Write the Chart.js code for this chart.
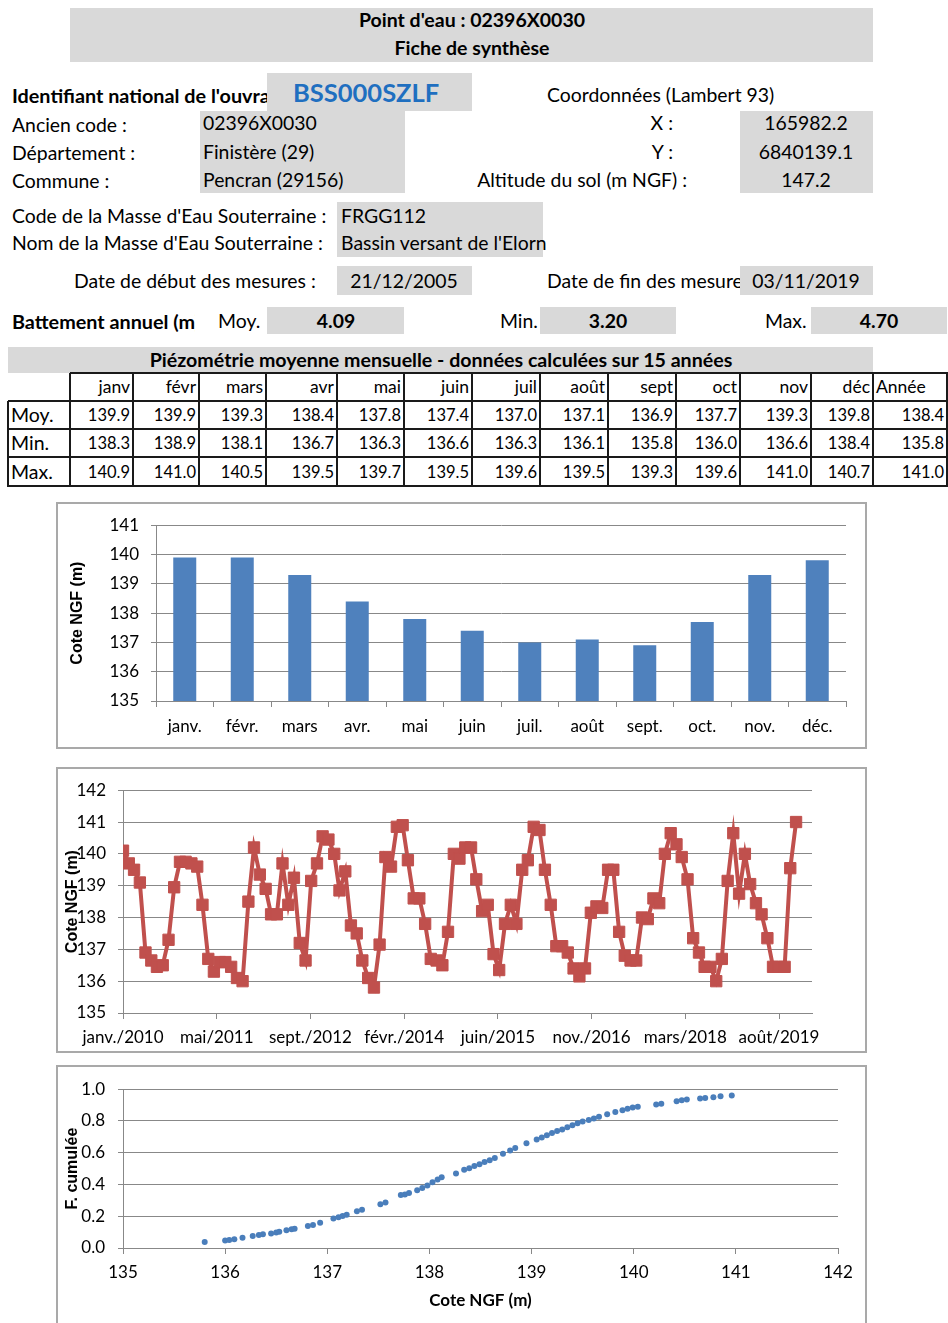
<!DOCTYPE html>
<html lang="fr">
<head>
<meta charset="utf-8">
<title>Point d'eau : 02396X0030 - Fiche de synthèse</title>
<script src="https://cdn.jsdelivr.net/npm/chart.js@4.4.1/dist/chart.umd.min.js"></script>
<style>
  html, body { margin: 0; padding: 0; }
  body { width: 948px; height: 1323px; background: #fff; position: relative; overflow: hidden;
         font-family: Lato, "Open Sans", sans-serif; color: #000; }
  .t { position: absolute; white-space: nowrap; height: 30px; line-height: 30px; font-size: 19.4px; }
  .g { position: absolute; background: #d9d9d9; }
  .hl, .vl { position: absolute; background: #1a1a1a; }
  .frame { position: absolute; border: 2px solid #a9a9a9; box-sizing: border-box; pointer-events: none; }
  canvas { position: absolute; }
</style>
</head>
<body>
<div id="sheet"></div>
<canvas id="barChart" width="809" height="245" style="left:57px;top:503px"></canvas>
<div class="frame" style="left:56px;top:502px;width:811px;height:247px"></div>
<canvas id="lineChart" width="809" height="284" style="left:57px;top:768px"></canvas>
<div class="frame" style="left:56px;top:767px;width:811px;height:286px"></div>
<canvas id="cumChart" width="809" height="257" style="left:57px;top:1066px"></canvas>
<div class="frame" style="left:56px;top:1065px;width:811px;height:270px"></div>

<script>
// ---- Monthly statistics (table + bar chart) ----
const monthHeaders = ['janv', 'févr', 'mars', 'avr', 'mai', 'juin', 'juil', 'août', 'sept', 'oct', 'nov', 'déc', 'Année'];
const rowLabels = ['Moy.', 'Min.', 'Max.'];
const monthlyMean = [139.9, 139.9, 139.3, 138.4, 137.8, 137.4, 137.0, 137.1, 136.9, 137.7, 139.3, 139.8];
const monthlyMin  = [138.3, 138.9, 138.1, 136.7, 136.3, 136.6, 136.3, 136.1, 135.8, 136.0, 136.6, 138.4];
const monthlyMax  = [140.9, 141.0, 140.5, 139.5, 139.7, 139.5, 139.6, 139.5, 139.3, 139.6, 141.0, 140.7];
const yearStats   = [138.4, 135.8, 141.0];   // Moy., Min., Max. over the whole year
const barLabels = ['janv.', 'févr.', 'mars', 'avr.', 'mai', 'juin', 'juil.', 'août', 'sept.', 'oct.', 'nov.', 'déc.'];

// ---- Monthly water level, January 2010 -> November 2019 (m NGF) ----
const firstYear = 2010;
const monthlyLevels = [
  140.1, 139.7, 139.5, 139.1, 136.9, 136.65, 136.45, 136.5, 137.3, 138.95, 139.75, 139.75,
  139.7, 139.6, 138.4, 136.7, 136.3, 136.6, 136.6, 136.45, 136.1, 136.0, 138.5, 140.2,
  139.35, 138.9, 138.1, 138.1, 139.7, 138.4, 139.25, 137.2, 136.65, 139.15, 139.7, 140.55,
  140.45, 140.0, 138.85, 139.45, 137.75, 137.5, 136.65, 136.1, 135.8, 137.15, 139.9, 139.6,
  140.85, 140.9, 139.8, 138.6, 138.6, 137.8, 136.7, 136.65, 136.5, 137.55, 140.0, 139.85,
  140.2, 140.2, 139.2, 138.2, 138.4, 136.85, 136.35, 137.8, 138.4, 137.8, 139.5, 139.8,
  140.85, 140.75, 139.5, 138.4, 137.1, 137.1, 136.9, 136.4, 136.15, 136.4, 138.15, 138.35,
  138.3, 139.5, 139.5, 137.55, 136.8, 136.65, 136.65, 138.0, 137.95, 138.6, 138.45, 140.0,
  140.65, 140.3, 139.9, 139.2, 137.35, 136.9, 136.45, 136.45, 136.0, 136.7, 139.15, 140.65,
  138.75, 140.0, 139.05, 138.45, 138.1, 137.35, 136.45, 136.45, 136.45, 139.55, 141.0
];
const dateTickLabels = ['janv./2010', 'mai/2011', 'sept./2012', 'févr./2014', 'juin/2015', 'nov./2016', 'mars/2018', 'août/2019'];
const dateAxisEnd = '2020-01-25';

// ---- Cumulative frequency of the levels ----
const cumLevels = [
  135.80, 136.00, 136.04, 136.09, 136.17, 136.27, 136.33, 136.37, 136.45, 136.50,
  136.53, 136.60, 136.65, 136.68, 136.81, 136.86, 136.93, 137.06, 137.11, 137.15,
  137.19, 137.29, 137.34, 137.52, 137.57, 137.72, 137.76, 137.80, 137.88, 137.93,
  137.98, 138.03, 138.08, 138.12, 138.26, 138.34, 138.39, 138.44, 138.49, 138.54,
  138.59, 138.64, 138.72, 138.79, 138.84, 138.95, 139.05, 139.10, 139.15, 139.20,
  139.25, 139.30, 139.35, 139.40, 139.45, 139.50, 139.56, 139.61, 139.66, 139.74,
  139.82, 139.89, 139.94, 139.99, 140.04, 140.22, 140.27, 140.42, 140.47, 140.52,
  140.65, 140.70, 140.78, 140.85, 140.96
];
const cumFreq = [
  0.037, 0.047, 0.051, 0.055, 0.065, 0.076, 0.082, 0.086, 0.092, 0.098,
  0.102, 0.112, 0.118, 0.122, 0.139, 0.145, 0.159, 0.186, 0.194, 0.202,
  0.210, 0.231, 0.241, 0.276, 0.286, 0.333, 0.337, 0.347, 0.363, 0.378,
  0.394, 0.414, 0.431, 0.445, 0.469, 0.492, 0.502, 0.516, 0.527, 0.541,
  0.553, 0.567, 0.594, 0.614, 0.629, 0.659, 0.684, 0.696, 0.710, 0.724,
  0.737, 0.747, 0.761, 0.773, 0.786, 0.796, 0.806, 0.816, 0.827, 0.843,
  0.857, 0.867, 0.877, 0.884, 0.890, 0.904, 0.908, 0.924, 0.931, 0.935,
  0.941, 0.945, 0.949, 0.955, 0.960
];

// ---------------- Header sheet ----------------
const sheet = document.getElementById('sheet');

function box(x1, y1, x2, y2) {
  const d = document.createElement('div');
  d.className = 'g';
  Object.assign(d.style, { left: x1 + 'px', top: y1 + 'px', width: (x2 - x1) + 'px', height: (y2 - y1) + 'px' });
  sheet.appendChild(d);
}

// align: 'l' (x = left edge), 'c' (x = centre), 'r' (x = right edge)
function text(str, x, cy, o = {}) {
  const d = document.createElement('div');
  d.className = 't';
  d.textContent = str;
  const align = o.align || 'l';
  d.style.top = (cy - 15) + 'px';
  if (align === 'l') { d.style.left = x + 'px'; }
  if (align === 'c') { d.style.left = (x - 300) + 'px'; d.style.width = '600px'; d.style.textAlign = 'center'; }
  if (align === 'r') { d.style.left = (x - 400) + 'px'; d.style.width = '400px'; d.style.textAlign = 'right'; }
  if (o.clip) { d.style.width = o.clip + 'px'; d.style.overflow = 'hidden'; }
  if (o.bold) d.style.fontWeight = '700';
  if (o.size) d.style.fontSize = o.size + 'px';
  if (o.color) d.style.color = o.color;
  sheet.appendChild(d);
}

function line(x1, y1, x2, y2) {
  const d = document.createElement('div');
  d.className = x1 === x2 ? 'vl' : 'hl';
  if (x1 === x2) Object.assign(d.style, { left: (x1 - 1) + 'px', top: y1 + 'px', width: '2px', height: (y2 - y1 + 1) + 'px' });
  else Object.assign(d.style, { left: x1 + 'px', top: (y1 - 1) + 'px', width: (x2 - x1 + 1) + 'px', height: '2px' });
  sheet.appendChild(d);
}

// title banner
box(70, 8, 873, 62);
text("Point d'eau : 02396X0030", 472, 20, { align: 'c', bold: true, size: 19.5 });
text('Fiche de synthèse', 472, 48, { align: 'c', bold: true, size: 19.5 });

// identification block
text("Identifiant national de l'ouvrage :", 12, 95, { bold: true, size: 19.8 });
box(267, 73, 472, 111);
text('BSS000SZLF', 293, 92, { bold: true, size: 25.5, color: '#1f6fc0' });
text('Coordonnées (Lambert 93)', 547, 95);

box(200, 111, 405, 193);
box(740, 111, 873, 193);
text('Ancien code :', 12, 125);
text('Département :', 12, 153);
text('Commune :', 12, 181);
text('02396X0030', 203, 123);
text('Finistère (29)', 203, 152);
text('Pencran (29156)', 203, 180);
text('X :', 673, 123, { align: 'r' });
text('Y :', 673, 152, { align: 'r' });
text('Altitude du sol (m NGF) :', 687, 180, { align: 'r' });
text('165982.2', 806, 123, { align: 'c' });
text('6840139.1', 806, 152, { align: 'c' });
text('147.2', 806, 180, { align: 'c' });

// groundwater body
text("Code de la Masse d'Eau Souterraine :", 12, 216);
text("Nom de la Masse d'Eau Souterraine :", 12, 243);
box(337, 202, 543, 257);
text('FRGG112', 341, 216);
text("Bassin versant de l'Elorn", 341, 243);

// measurement period
text('Date de début des mesures :', 74, 281);
box(337, 266, 472, 295);
text('21/12/2005', 404, 281, { align: 'c' });
text('Date de fin des mesures :', 547, 281);
box(740, 266, 873, 295);
text('03/11/2019', 806, 281, { align: 'c' });

// annual amplitude
text('Battement annuel (m)', 12, 321, { bold: true, clip: 183, size: 19.8 });
text('Moy.', 218, 321);
box(267, 307, 404, 334);
text('4.09', 336, 321, { align: 'c', bold: true });
text('Min.', 500, 321);
box(540, 307, 676, 334);
text('3.20', 608, 321, { align: 'c', bold: true });
text('Max.', 765, 321);
box(811, 307, 947, 334);
text('4.70', 879, 321, { align: 'c', bold: true });

// ---------------- Monthly table ----------------
box(8, 347, 873, 373);
text('Piézométrie moyenne mensuelle - données calculées sur 15 années', 441, 360, { align: 'c', bold: true, size: 19.6 });

const colX = [8, 70, 133, 199, 266, 337, 404, 472, 540, 608, 676, 740, 811, 873, 947];
const rowY = [373, 401, 429, 457, 486];
const tableRows = [monthlyMean.concat(yearStats[0]), monthlyMin.concat(yearStats[1]), monthlyMax.concat(yearStats[2])];

monthHeaders.forEach((h, c) => {
  const cy = (rowY[0] + rowY[1]) / 2;
  if (h === 'Année') text(h, colX[c + 1] + 3, cy, { size: 17.5 });
  else text(h, colX[c + 2] - 3, cy, { align: 'r', size: 17.5 });
});
tableRows.forEach((vals, r) => {
  const cy = (rowY[r + 1] + rowY[r + 2]) / 2;
  text(rowLabels[r], colX[0] + 3, cy, { size: 19.5 });
  vals.forEach((v, c) => text(v.toFixed(1), colX[c + 2] - 3, cy, { align: 'r', size: 16.5 }));
});
line(colX[1], rowY[0], colX[14], rowY[0]);
for (let r = 1; r < rowY.length; r++) line(colX[0], rowY[r], colX[14], rowY[r]);
line(colX[0], rowY[1], colX[0], rowY[4]);
for (let c = 1; c < colX.length; c++) line(colX[c], rowY[0], colX[c], rowY[4]);

// ---------------- Charts ----------------
Chart.defaults.font.family = 'Lato, sans-serif';
Chart.defaults.color = '#000';
const gridGrey = '#888888';
const axisTitleFont = { family: '"Liberation Sans", Arial, sans-serif', weight: 'bold', size: 16 };
const noPlugins = { legend: { display: false }, tooltip: { enabled: false } };

// Mean monthly level
new Chart(document.getElementById('barChart'), {
  type: 'bar',
  data: {
    labels: barLabels,
    datasets: [{ data: monthlyMean, backgroundColor: '#4f81bd', categoryPercentage: 1, barPercentage: 0.4 }]
  },
  options: {
    responsive: false, animation: false,
    layout: { padding: { left: 0, right: 20, top: 19, bottom: 0 } },
    plugins: noPlugins,
    scales: {
      x: {
        grid: { drawOnChartArea: false, tickLength: 6, color: gridGrey, offset: true },
        border: { color: gridGrey },
        ticks: { font: { size: 17 }, padding: 9 },
        afterFit: s => { s.height = 47; }
      },
      y: {
        min: 135, max: 141, beginAtZero: false,
        ticks: { stepSize: 1, font: { size: 17 }, padding: 12 },
        grid: { color: gridGrey, tickLength: 5 },
        border: { color: gridGrey },
        title: { display: true, text: 'Cote NGF (m)', font: axisTitleFont, padding: { top: 11, bottom: 0 } },
        afterFit: s => { s.width = 99; }
      }
    }
  }
});

// Level time series, one point per month
const DAY = 86400000;
const t0 = Date.UTC(firstYear, 0, 1);
const levelPoints = monthlyLevels.map((v, i) => ({ x: (Date.UTC(firstYear, i, 1) - t0) / DAY, y: v }));
const axisEndDay = (Date.parse(dateAxisEnd) - t0) / DAY;
const tickStepDays = 500;

new Chart(document.getElementById('lineChart'), {
  type: 'line',
  data: {
    datasets: [{
      data: levelPoints,
      borderColor: '#c0504d', backgroundColor: '#c0504d', borderWidth: 4,
      pointStyle: 'rect', pointRadius: 8, pointBorderWidth: 1, tension: 0
    }]
  },
  options: {
    responsive: false, animation: false,
    layout: { padding: { left: 0, right: 54, top: 11, bottom: 0 } },
    plugins: noPlugins,
    scales: {
      x: {
        type: 'linear', min: 0, max: axisEndDay,
        afterBuildTicks: s => { s.ticks = dateTickLabels.map((_, k) => ({ value: k * tickStepDays })); },
        ticks: { font: { size: 17 }, padding: 8, maxRotation: 0, autoSkip: false,
                 callback: v => dateTickLabels[Math.round(v / tickStepDays)] },
        grid: { drawOnChartArea: false, tickLength: 6, color: gridGrey },
        border: { color: gridGrey },
        afterFit: s => { s.height = 39; }
      },
      y: {
        min: 135, max: 142,
        ticks: { stepSize: 1, font: { size: 17 }, padding: 12 },
        grid: { color: gridGrey, tickLength: 5 },
        border: { color: gridGrey },
        title: { display: true, text: 'Cote NGF (m)', font: axisTitleFont, padding: { top: 6, bottom: 0 } },
        afterFit: s => { s.width = 66; }
      }
    }
  }
});

// Cumulative frequency curve
new Chart(document.getElementById('cumChart'), {
  type: 'scatter',
  data: {
    datasets: [{
      data: cumLevels.map((x, i) => ({ x, y: cumFreq[i] })),
      backgroundColor: '#4a7ebb', borderColor: '#4a7ebb', pointRadius: 3, pointBorderWidth: 0
    }]
  },
  options: {
    responsive: false, animation: false,
    layout: { padding: { left: 0, right: 28, top: 18, bottom: 0 } },
    plugins: noPlugins,
    scales: {
      x: {
        type: 'linear', min: 135, max: 142,
        ticks: { stepSize: 1, font: { size: 17 }, padding: 8 },
        grid: { drawOnChartArea: false, tickLength: 6, color: gridGrey },
        border: { color: gridGrey },
        title: { display: true, text: 'Cote NGF (m)', font: { family: 'Lato, sans-serif', weight: 'bold', size: 17 }, padding: { top: 0, bottom: 12 } },
        afterFit: s => { s.height = 75; }
      },
      y: {
        min: 0, max: 1,
        ticks: { stepSize: 0.2, font: { size: 17 }, padding: 13, callback: v => v.toFixed(1) },
        grid: { color: gridGrey, tickLength: 5 },
        border: { color: gridGrey },
        title: { display: true, text: 'F. cumulée', font: axisTitleFont, padding: { top: 6, bottom: 0 } },
        afterFit: s => { s.width = 66; }
      }
    }
  }
});
</script>
</body>
</html>
